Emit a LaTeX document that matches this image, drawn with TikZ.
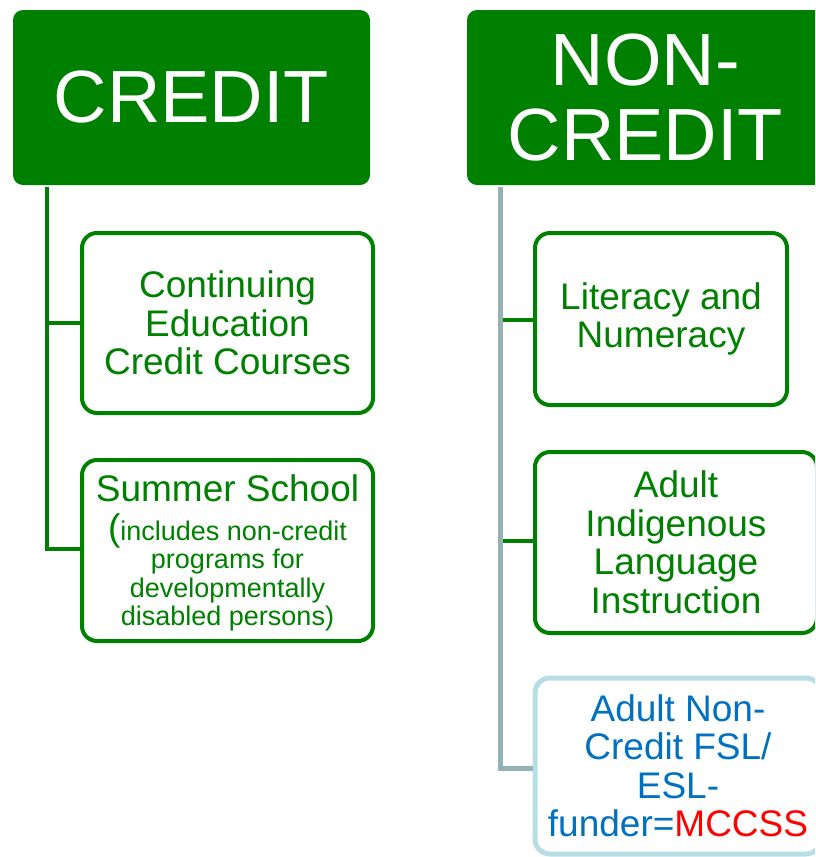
\documentclass[tikz,border=0pt]{standalone}
\usepackage{fontspec}
\setmainfont{Liberation Sans}
\definecolor{dgreen}{RGB}{0,128,0}
\definecolor{trunkgray}{RGB}{149,179,183}
\definecolor{lblue}{RGB}{183,222,228}
\definecolor{tblue}{RGB}{0,112,192}
\definecolor{mred}{RGB}{255,0,0}
\begin{document}
\begin{tikzpicture}[x=1pt,y=-1pt,
  header/.style={fill=dgreen, draw=none, rounded corners=10pt, text=white,
    align=center, inner sep=0pt, minimum width=357pt, minimum height=175pt,
    font=\fontsize{74}{75}\selectfont},
  itembox/.style={draw=dgreen, line width=4pt, fill=white, rounded corners=15pt,
    text=dgreen, align=center, inner sep=0pt,
    font=\fontsize{37}{38.5}\selectfont},
  eslbox/.style={itembox, draw=lblue, line width=5pt, text=tblue},
  gline/.style={draw=dgreen, line width=4pt},
  tline/.style={draw=trunkgray, line width=5pt}]
\useasboundingbox (0,0) rectangle (815,857);
\clip (0,0) rectangle (815,857);
% headers
\node[header] (credit) at (191.5,97.5) {\raisebox{2pt}{CREDIT}};
\node[header] (noncredit) at (645.5,97.5) {NON-\\CREDIT};
% left column
\node[itembox, minimum width=291pt, minimum height=180pt] (cont) at (227.5,323)
  {Continuing\\Education\\Credit Courses};
\node[itembox, minimum width=291pt, minimum height=181pt,
  font=\fontsize{27}{28.5}\selectfont, text depth=0pt] (summer) at (227.5,550.5)
  {{\fontsize{37}{38}\selectfont Summer School}\\[10pt]
   {\fontsize{37}{28}\selectfont(}includes non-credit\\programs for\\developmentally\\disabled persons)\rule[-6pt]{0pt}{1pt}};
% right column
\node[itembox, minimum width=252pt, minimum height=172pt] (lit) at (661,319)
  {\raisebox{-3pt}{\parbox{250pt}{\centering Literacy and\\Numeracy}}};
\node[itembox, minimum width=282pt, minimum height=181pt] (indig) at (676,542.5)
  {Adult\\Indigenous\\Language\\Instruction};
\node[eslbox, minimum width=286pt, minimum height=176pt] (esl) at (678,766)
  {Adult Non-\\Credit FSL/\\ESL-\\funder={\color{mred}MCCSS}};
% left connectors
\coordinate (ltop) at (47,187);
\coordinate (lmid) at (47,323);
\coordinate (lbot) at (47,549);
\draw[gline] (ltop) -- (lbot) -- (lbot -| summer.west);
\draw[gline] (lmid) -- (lmid -| cont.west);
% right connectors
\coordinate (rtop) at (500,187);
\coordinate (r1) at (502.5,320);
\coordinate (r2) at (502.5,541);
\coordinate (r3) at (500,768);
\draw[tline] (rtop) -- (r3) -- (r3 -| esl.west);
\draw[gline] (r1) -- (r1 -| lit.west);
\draw[gline] (r2) -- (r2 -| indig.west);
\end{tikzpicture}
\end{document}
